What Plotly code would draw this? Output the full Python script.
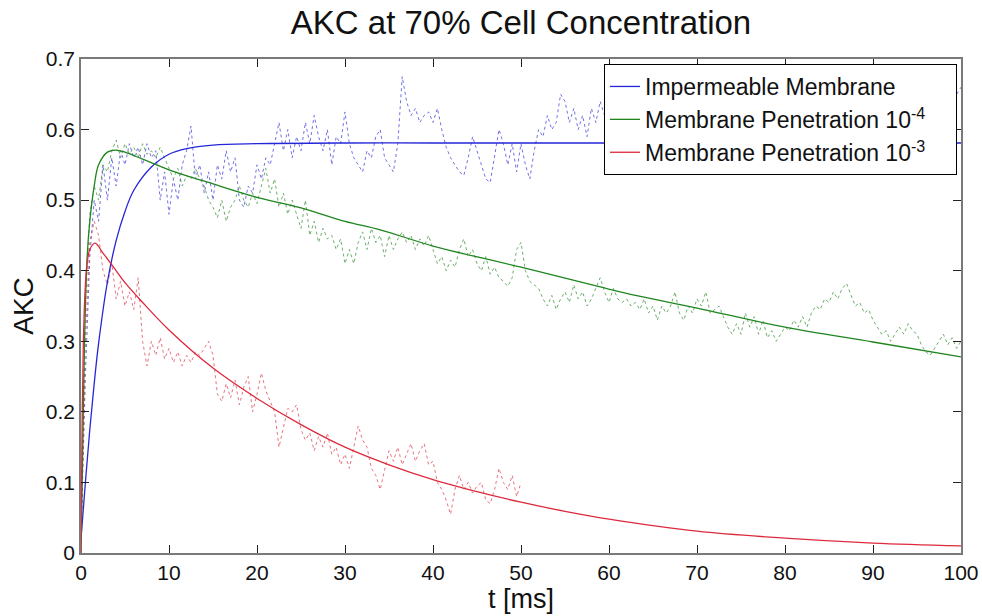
import plotly.graph_objects as go

# ---- smooth model curves ----
t_imp = [0, 0.5, 1, 1.5, 2, 3, 4, 5, 6, 8, 10, 12, 15, 20, 30, 40, 50, 60, 70, 80, 90, 100]
v_imp = [0.02, 0.10, 0.175, 0.24, 0.297, 0.384, 0.443, 0.484, 0.514, 0.547, 0.565, 0.573,
         0.578, 0.580, 0.581, 0.581, 0.581, 0.581, 0.581, 0.581, 0.581, 0.581]

t_p4 = [0, 0.2, 0.4, 0.7, 1.0, 1.5, 2, 3, 4, 5, 7, 10, 15, 20, 25, 30, 34, 40, 50, 59, 62, 70, 80, 90, 100]
v_p4 = [0.0, 0.15, 0.30, 0.42, 0.47, 0.52, 0.55, 0.568, 0.571, 0.568, 0.558, 0.543, 0.523,
        0.504, 0.489, 0.470, 0.458, 0.435, 0.405, 0.377, 0.368, 0.347, 0.320, 0.299, 0.278]

t_p3 = [0, 0.1, 0.27, 0.5, 0.65, 1.0, 1.6, 2.5, 3.7, 5, 7, 10, 15, 20, 25, 30, 35,
        40, 45, 50, 55, 60, 70, 80, 90, 100]
v_p3 = [0.0, 0.15, 0.30, 0.38, 0.405, 0.43, 0.439, 0.425, 0.405, 0.383, 0.355, 0.316, 0.262,
        0.219, 0.182, 0.150, 0.125, 0.104, 0.087, 0.072, 0.059, 0.048, 0.031, 0.021, 0.014, 0.010]

n_imp = [0.02, 0.25, 0.42, 0.50, 0.47, 0.55, 0.50, 0.56, 0.52, 0.57,
         0.55, 0.58, 0.56, 0.575, 0.55, 0.58, 0.56, 0.57, 0.50, 0.54,
         0.48, 0.53, 0.50, 0.55, 0.57, 0.605, 0.53, 0.55, 0.51, 0.54,
         0.50, 0.55, 0.53, 0.57, 0.54, 0.56, 0.50, 0.49, 0.52, 0.51,
         0.55, 0.53, 0.56, 0.55, 0.58, 0.61, 0.57, 0.60, 0.56, 0.59,
         0.57, 0.61, 0.58, 0.62, 0.59, 0.57, 0.60, 0.55, 0.59, 0.58,
         0.625, 0.58, 0.56, 0.55, 0.54, 0.57, 0.56, 0.59, 0.60, 0.56,
         0.55, 0.54, 0.58, 0.675, 0.64, 0.62, 0.63, 0.61, 0.62, 0.625,
         0.61, 0.63, 0.60, 0.575, 0.56, 0.55, 0.54, 0.535, 0.56, 0.59,
         0.57, 0.55, 0.53, 0.525, 0.56, 0.60, 0.58, 0.55, 0.58, 0.54,
         0.58, 0.55, 0.53, 0.57, 0.60, 0.59, 0.62, 0.60, 0.61, 0.65,
         0.64, 0.61, 0.63, 0.60, 0.62, 0.59, 0.63, 0.61, 0.64, 0.62,
         0.60, 0.63, 0.61, 0.64, 0.62, 0.60, 0.62, 0.65, 0.63, 0.61,
         0.63, 0.60, 0.62, 0.64, 0.61, 0.63, 0.66, 0.64, 0.62, 0.60,
         0.62, 0.64, 0.61, 0.59, 0.62, 0.65, 0.63, 0.61, 0.64, 0.62,
         0.60, 0.63, 0.65, 0.62, 0.60, 0.63, 0.61, 0.64, 0.66, 0.63,
         0.61, 0.63, 0.60, 0.62, 0.65, 0.63, 0.61, 0.64, 0.62, 0.65,
         0.67, 0.64, 0.62, 0.65, 0.63, 0.66, 0.64, 0.62, 0.65, 0.67,
         0.64, 0.66, 0.63, 0.65, 0.68, 0.65, 0.63, 0.66, 0.64, 0.67,
         0.65, 0.68, 0.66, 0.64, 0.67, 0.65, 0.68, 0.66, 0.67, 0.65,
         0.66]

n_p4 = [0.02, 0.35, 0.48, 0.52, 0.50, 0.55, 0.54, 0.57, 0.585, 0.56,
        0.58, 0.565, 0.575, 0.56, 0.58, 0.565, 0.57, 0.56, 0.575, 0.56,
        0.545, 0.53, 0.545, 0.52, 0.535, 0.53, 0.545, 0.53, 0.52, 0.50,
        0.49, 0.475, 0.50, 0.47, 0.49, 0.50, 0.52, 0.50, 0.49, 0.51,
        0.495, 0.52, 0.545, 0.51, 0.53, 0.49, 0.51, 0.48, 0.50, 0.48,
        0.46, 0.50, 0.45, 0.47, 0.44, 0.46, 0.445, 0.45, 0.43, 0.445,
        0.41, 0.43, 0.41, 0.44, 0.455, 0.43, 0.46, 0.44, 0.45, 0.42,
        0.45, 0.43, 0.445, 0.455, 0.44, 0.45, 0.43, 0.445, 0.435, 0.45,
        0.43, 0.41, 0.42, 0.40, 0.415, 0.405, 0.43, 0.445, 0.42, 0.43,
        0.41, 0.40, 0.42, 0.395, 0.405, 0.39, 0.385, 0.378, 0.39, 0.43,
        0.44, 0.40, 0.385, 0.38, 0.375, 0.36, 0.35, 0.365, 0.345, 0.36,
        0.37, 0.355, 0.38, 0.36, 0.37, 0.35, 0.36, 0.375, 0.39, 0.37,
        0.355, 0.375, 0.36, 0.355, 0.36, 0.35, 0.355, 0.345, 0.36, 0.34,
        0.35, 0.33, 0.35, 0.34, 0.35, 0.37, 0.34, 0.33, 0.35, 0.34,
        0.36, 0.35, 0.37, 0.34, 0.345, 0.35, 0.335, 0.32, 0.31, 0.325,
        0.31, 0.34, 0.32, 0.335, 0.31, 0.33, 0.305, 0.315, 0.30, 0.31,
        0.32, 0.315, 0.33, 0.32, 0.335, 0.32, 0.34, 0.35, 0.345, 0.36,
        0.355, 0.37, 0.36, 0.375, 0.382, 0.365, 0.35, 0.355, 0.34, 0.345,
        0.33, 0.32, 0.31, 0.315, 0.30, 0.31, 0.32, 0.31, 0.325, 0.315,
        0.31, 0.295, 0.285, 0.28, 0.29, 0.30, 0.31, 0.295, 0.305, 0.29,
        0.30]

n_p3 = [0.02, 0.30, 0.44, 0.47, 0.45, 0.40, 0.38, 0.41, 0.36, 0.385,
        0.35, 0.37, 0.345, 0.39, 0.30, 0.265, 0.30, 0.28, 0.305, 0.275,
        0.29, 0.27, 0.285, 0.265, 0.28, 0.27, 0.285, 0.28, 0.29, 0.30,
        0.28, 0.225, 0.215, 0.24, 0.22, 0.245, 0.21, 0.235, 0.25, 0.20,
        0.225, 0.255, 0.23, 0.215, 0.20, 0.15, 0.18, 0.205, 0.20, 0.21,
        0.175, 0.16, 0.17, 0.145, 0.165, 0.15, 0.17, 0.14, 0.15, 0.125,
        0.14, 0.12, 0.15, 0.18, 0.16, 0.15, 0.12, 0.11, 0.09, 0.12,
        0.145, 0.13, 0.15, 0.125, 0.14, 0.155, 0.13, 0.145, 0.155, 0.125,
        0.13, 0.10, 0.09, 0.075, 0.055, 0.09, 0.11, 0.09, 0.10, 0.085,
        0.095, 0.10, 0.075, 0.07, 0.09, 0.12, 0.10, 0.09, 0.11, 0.08,
        0.10]

DT = 0.5
t_n_imp = [i * DT for i in range(len(n_imp))]
t_n_p4 = [i * DT for i in range(len(n_p4))]
t_n_p3 = [i * DT for i in range(len(n_p3))]

PAD = "&nbsp;" * 4
names = ["Impermeable Membrane" + PAD,
         "Membrane Penetration 10<sup>-4</sup>" + PAD,
         "Membrane Penetration 10<sup>-3</sup>" + PAD]
colors = ["#2626d9", "#1f851f", "#dc2a3c"]

fig = go.Figure()
for tt, vv, c in [(t_n_imp, n_imp, colors[0]), (t_n_p4, n_p4, colors[1]), (t_n_p3, n_p3, colors[2])]:
    fig.add_trace(go.Scatter(x=tt, y=vv, mode="lines", showlegend=False, opacity=0.65,
                             line=dict(color=c, width=1, dash="dot"), hoverinfo="skip"))
for i, (tt, vv) in enumerate([(t_imp, v_imp), (t_p4, v_p4), (t_p3, v_p3)]):
    fig.add_trace(go.Scatter(x=tt, y=vv, mode="lines", name=names[i], legendgroup=str(i),
                             line=dict(color=colors[i], width=1.3, shape="spline"), hoverinfo="skip"))

FONT = "Liberation Sans, Arial, Helvetica, sans-serif"
axis_common = dict(showline=True, linecolor="#7a7a7a", linewidth=1.5, mirror="ticks",
                   ticks="inside", ticklen=8, tickcolor="#222", tickwidth=1,
                   showgrid=False, zeroline=False, automargin=False,
                   tickfont=dict(family=FONT, size=21, color="#111"))

fig.update_layout(
    width=982, height=616,
    margin=dict(l=81, r=21, t=59, b=63, autoexpand=False),
    paper_bgcolor="white", plot_bgcolor="white",
    font=dict(family=FONT, color="#111"),
    title=dict(text="AKC at 70% Cell Concentration", x=521 / 982, xanchor="center",
               y=1 - 22 / 616, yanchor="middle", yref="container",
               font=dict(family=FONT, size=33, color="#111")),
    xaxis=dict(range=[0, 100], tickvals=[0, 10, 20, 30, 40, 50, 60, 70, 80, 90, 100],
               title=dict(text="t [ms]", font=dict(family=FONT, size=27), standoff=3),
               **axis_common),
    yaxis=dict(range=[0, 0.7], tickvals=[0, 0.1, 0.2, 0.3, 0.4, 0.5, 0.6, 0.7],
               ticktext=["0", "0.1", "0.2", "0.3", "0.4", "0.5", "0.6", "0.7"],
               title=dict(text="AKC", font=dict(family=FONT, size=28), standoff=4),
               **axis_common),
    legend=dict(x=(957 - 81) / 880, xanchor="right", y=(553 - 64) / 494, yanchor="top",
                bgcolor="white", bordercolor="black", borderwidth=1,
                font=dict(family=FONT, size=23, color="#111"),
                traceorder="grouped", tracegroupgap=0, itemwidth=30),
    hovermode=False,
)

fig.write_html("out.html")
